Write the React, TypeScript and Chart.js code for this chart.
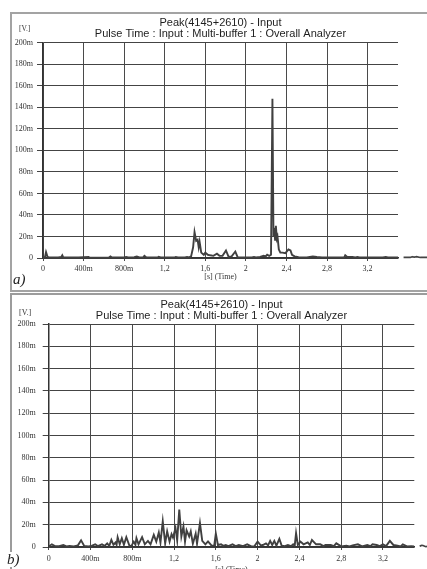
import React, { useEffect, useRef } from "react";
import { Chart, registerables } from "chart.js";

Chart.register(...registerables);

const TITLE_LINES = ["Peak(4145+2610) - Input", "Pulse Time : Input : Multi-buffer 1 : Overall Analyzer"];
const Y_UNIT = "[V.]";
const X_TITLE = "[s] (Time)";
const PANEL_LABELS = ["a)", "b)"];

const Y_TICKS = [0, 20, 40, 60, 80, 100, 120, 140, 160, 180, 200];
const X_TICK_VALUES = [0, 0.4, 0.8, 1.2, 1.6, 2, 2.4, 2.8, 3.2];
const X_TICK_LABELS = ["0", "400m", "800m", "1,2", "1,6", "2", "2,4", "2,8", "3,2"];
const X_MAX = 3.5;

// panel a) — time [s], voltage [mV]
const TIME_A = [0, 0.02, 0.03, 0.045, 0.06, 0.15, 0.18, 0.19, 0.2, 0.35, 0.45, 0.46, 0.65, 0.665, 0.68, 0.8, 0.82, 0.84, 0.9, 0.925, 0.95, 0.99, 1.0, 1.02, 1.13, 1.14, 1.16, 1.3, 1.31, 1.33, 1.4, 1.42, 1.44, 1.46, 1.48, 1.494, 1.51, 1.524, 1.535, 1.544, 1.56, 1.585, 1.6, 1.625, 1.65, 1.68, 1.715, 1.74, 1.77, 1.804, 1.83, 1.86, 1.896, 1.92, 2.0, 2.06, 2.08, 2.1, 2.14, 2.176, 2.195, 2.21, 2.23, 2.248, 2.262, 2.272, 2.28, 2.288, 2.296, 2.305, 2.312, 2.325, 2.34, 2.36, 2.39, 2.42, 2.44, 2.455, 2.48, 2.52, 2.55, 2.6, 2.66, 2.7, 2.75, 2.9, 2.97, 2.98, 3.0, 3.05, 3.08, 3.1, 3.12, 3.35, 3.38, 3.4, 3.5];
const VOLT_A = [0.5, 1, 5.5, 1, 0.5, 0.5, 1, 2.5, 0.5, 0.5, 1, 0.3, 0.5, 1.5, 0.5, 0.5, 1, 0.5, 0.8, 1.5, 0.5, 0.8, 2, 0.5, 0.5, 1.2, 0.5, 0.5, 1, 0.5, 0.5, 1, 0.5, 1.5, 10, 24, 16, 17, 10, 15, 5, 3, 5, 3, 2.5, 2, 4, 2, 2, 7, 1, 1.5, 6, 0.5, 0.5, 0.5, 1, 0.5, 1, 2, 1.5, 3, 2, 3, 148, 20, 28, 17, 30, 18, 20, 8, 5, 5, 4.5, 8, 7, 3, 1.5, 0.8, 0.5, 0.6, 1.5, 1, 0.5, 0.5, 0.5, 2.5, 1, 1, 0.5, 1, 0.5, 0.5, 1, 0.5, 0.5];
// trace continuing past the right edge of plot a)
const EXT_TIME_A = [3.555, 3.62, 3.64, 3.66, 3.68, 3.72, 3.8];
const EXT_VOLT_A = [0.5, 0.5, 1.2, 0.8, 1.2, 0.5, 0.5];

// panel b)
const TIME_B = [0, 0.03, 0.06, 0.1, 0.14, 0.17, 0.2, 0.24, 0.28, 0.31, 0.34, 0.38, 0.41, 0.445, 0.47, 0.51, 0.535, 0.56, 0.58, 0.6, 0.62, 0.64, 0.65, 0.66, 0.68, 0.7, 0.72, 0.743, 0.775, 0.795, 0.814, 0.83, 0.84, 0.86, 0.894, 0.92, 0.95, 0.975, 1.006, 1.03, 1.054, 1.07, 1.092, 1.115, 1.134, 1.157, 1.176, 1.19, 1.214, 1.23, 1.25, 1.27, 1.29, 1.305, 1.32, 1.345, 1.36, 1.38, 1.407, 1.42, 1.448, 1.47, 1.5, 1.525, 1.56, 1.585, 1.6, 1.62, 1.65, 1.67, 1.695, 1.72, 1.76, 1.79, 1.82, 1.86, 1.9, 1.94, 1.967, 2.0, 2.03, 2.05, 2.08, 2.1, 2.12, 2.14, 2.16, 2.18, 2.208, 2.23, 2.26, 2.29, 2.32, 2.34, 2.355, 2.368, 2.385, 2.41, 2.44, 2.48, 2.5, 2.52, 2.56, 2.6, 2.63, 2.65, 2.7, 2.73, 2.753, 2.8, 2.85, 2.88, 2.91, 2.96, 3.0, 3.05, 3.08, 3.1, 3.14, 3.17, 3.2, 3.23, 3.266, 3.3, 3.34, 3.37, 3.39, 3.43, 3.47, 3.5];
const VOLT_B = [0.5, 2.4, 0.8, 0.8, 1.8, 0.6, 1, 0.6, 1.5, 6, 1, 0.5, 1, 2.4, 0.8, 2.4, 1, 3.3, 1, 6.4, 2, 4, 2, 8.8, 2.5, 7.9, 2, 8.8, 0.6, 1.5, 4.8, 2, 7.9, 2.4, 8.8, 2.4, 5.5, 2.4, 10.9, 4.8, 13, 4, 23, 3.3, 14, 4.8, 11.5, 8.5, 17, 6, 33.6, 9.4, 18.5, 4.8, 15, 9.4, 14, 3, 12, 3, 21.4, 5.5, 2.4, 5, 1.2, 1.5, 12, 1.8, 2.4, 1, 1.8, 0.8, 2.4, 0.8, 1.8, 0.8, 2.4, 0.6, 0.5, 4.8, 1.5, 1.8, 3.3, 1.5, 5.5, 1.8, 5.5, 1.2, 7.3, 1.2, 0.8, 1.8, 0.8, 2.4, 1, 12.4, 1.8, 4.8, 2.4, 4.2, 1.8, 6.3, 2.4, 2.4, 0.8, 1.8, 1.8, 0.8, 3.3, 0.6, 1.2, 0.6, 1.5, 2.4, 0.5, 1.8, 0.8, 2.4, 1.8, 0.8, 2.4, 0.8, 5.5, 1.8, 1.2, 0.6, 2.4, 0.6, 0.8, 0.5];
const EXT_TIME_B = [3.552, 3.57, 3.595, 3.615, 3.64];
const EXT_VOLT_B = [0.5, 1.8, 0.8, 0.2, 1.5];

type PanelLayout = {
  padLeft: number;
  yWidth: number;
  rightGap: number;
  xHeight: number;
  titleTop: number;
  titleBottom: number;
  yTickPad: number;
  xTickPad: number;
  xTitlePad: number;
  extTension: number;
};

const extensionPlugin = (times: number[], volts: number[], tension: number) => ({
  id: "extension",
  afterDatasetsDraw(chart: any) {
    const xs = chart.scales.x;
    const ys = chart.scales.y;
    const pts = times.map((t, i) => [xs.getPixelForValue(t), ys.getPixelForValue(volts[i])]);
    const ctx = chart.ctx;
    ctx.save();
    ctx.strokeStyle = "#444";
    ctx.lineWidth = 1.7;
    ctx.lineJoin = "round";
    ctx.beginPath();
    ctx.moveTo(pts[0][0], pts[0][1]);
    for (let i = 1; i < pts.length; i++) {
      if (tension > 0) {
        const mx = (pts[i - 1][0] + pts[i][0]) / 2;
        const my = (pts[i - 1][1] + pts[i][1]) / 2;
        ctx.quadraticCurveTo(pts[i - 1][0], pts[i - 1][1], mx, my);
      } else {
        ctx.lineTo(pts[i][0], pts[i][1]);
      }
    }
    ctx.lineTo(pts[pts.length - 1][0], pts[pts.length - 1][1]);
    ctx.stroke();
    ctx.restore();
  },
});

function makeConfig(times: number[], volts: number[], extT: number[], extV: number[], L: PanelLayout): any {
  const tickFont = { family: "'Liberation Serif', 'Times New Roman', serif", size: 8 };
  return {
    type: "line",
    data: {
      datasets: [
        {
          data: times.map((t, i) => ({ x: t, y: volts[i] })),
          borderColor: "#404040",
          borderWidth: 1.9,
          pointRadius: 0,
          tension: 0,
          fill: false,
        },
      ],
    },
    plugins: [extensionPlugin(extT, extV, L.extTension)],
    options: {
      animation: false,
      responsive: false,
      devicePixelRatio: 1,
      events: [],
      layout: { padding: { left: L.padLeft, right: 0, top: 0, bottom: 0 } },
      plugins: {
        legend: { display: false },
        tooltip: { enabled: false },
        title: {
          display: true,
          text: TITLE_LINES,
          color: "#1e1e1e",
          font: { family: "'Liberation Sans', Arial, sans-serif", size: 11, weight: "normal", lineHeight: 1.05 },
          padding: { top: L.titleTop, bottom: L.titleBottom },
        },
      },
      scales: {
        x: {
          type: "linear",
          min: 0,
          max: X_MAX,
          afterBuildTicks: (s: any) => {
            s.ticks = X_TICK_VALUES.map((v) => ({ value: v }));
          },
          afterFit: (s: any) => {
            s.height = L.xHeight;
          },
          ticks: {
            autoSkip: false,
            maxRotation: 0,
            padding: L.xTickPad,
            color: "#333",
            font: tickFont,
            callback: (v: number) => {
              const i = X_TICK_VALUES.findIndex((t) => Math.abs(t - v) < 1e-6);
              return i >= 0 ? X_TICK_LABELS[i] : "";
            },
          },
          grid: { color: "#4a4a4a", lineWidth: 1, tickLength: 3, drawTicks: true },
          border: { display: true, color: "#333", width: 1.5 },
          title: {
            display: true,
            text: X_TITLE,
            color: "#333",
            font: { ...tickFont, lineHeight: 1.2 },
            padding: { top: 0, bottom: L.xTitlePad },
          },
        },
        y: {
          type: "linear",
          position: "left",
          min: 0,
          max: 200,
          afterBuildTicks: (s: any) => {
            s.ticks = Y_TICKS.map((v) => ({ value: v }));
          },
          afterFit: (s: any) => {
            s.width = L.yWidth;
          },
          ticks: {
            autoSkip: false,
            padding: L.yTickPad,
            color: "#333",
            font: tickFont,
            callback: (v: number) => (v === 0 ? "0" : `${v}m`),
          },
          grid: { color: "#444", lineWidth: 1, tickLength: 6, drawTicks: true },
          border: { display: true, color: "#333", width: 1.5 },
        },
        gap: {
          type: "linear",
          position: "right",
          display: true,
          min: 0,
          max: 1,
          afterFit: (s: any) => {
            s.width = L.rightGap;
          },
          ticks: { display: false },
          grid: { display: false, drawTicks: false },
          border: { display: false },
        },
      },
    },
  };
}

const LAYOUT_A: PanelLayout = {
  padLeft: 2, yWidth: 29, rightGap: 29, xHeight: 32,
  titleTop: 3.1, titleBottom: 2.5, yTickPad: 4, xTickPad: 3, xTitlePad: 8.5, extTension: 0,
};
const LAYOUT_B: PanelLayout = {
  padLeft: 4, yWidth: 32.7, rightGap: 12.7, xHeight: 33,
  titleTop: 3.7, titleBottom: 2.2, yTickPad: 7, xTickPad: 4.3, xTitlePad: 5.7, extTension: 0.5,
};

function Panel(props: { times: number[]; volts: number[]; extT: number[]; extV: number[]; layout: PanelLayout; top: number; height: number }) {
  const ref = useRef<HTMLCanvasElement | null>(null);
  useEffect(() => {
    if (!ref.current) return;
    const chart = new Chart(ref.current, makeConfig(props.times, props.volts, props.extT, props.extV, props.layout));
    return () => chart.destroy();
  }, []);
  return (
    <canvas
      ref={ref}
      width={415}
      height={props.height}
      style={{ position: "absolute", left: 12, top: props.top, width: 415, height: props.height }}
    />
  );
}

const labelStyle: React.CSSProperties = {
  position: "absolute",
  fontFamily: "'Liberation Serif', 'Times New Roman', serif",
  color: "#333",
  lineHeight: 1,
  whiteSpace: "nowrap",
};

export default function App() {
  return (
    <div style={{ position: "absolute", left: 0, top: 0, width: 427, height: 569, overflow: "hidden", background: "#fff" }}>
      <div style={{ position: "absolute", left: 10, top: 12, width: 440, height: 280, boxSizing: "border-box", border: "2px solid #a3a3a3" }} />
      <div style={{ position: "absolute", left: 10, top: 293, width: 440, height: 300, boxSizing: "border-box", border: "2px solid #9c9c9c" }} />
      <Panel times={TIME_A} volts={VOLT_A} extT={EXT_TIME_A} extV={EXT_VOLT_A} layout={LAYOUT_A} top={14} height={276} />
      <Panel times={TIME_B} volts={VOLT_B} extT={EXT_TIME_B} extV={EXT_VOLT_B} layout={LAYOUT_B} top={295} height={285} />
      <span style={{ ...labelStyle, left: 19, top: 25, fontSize: 7.5 }}>{Y_UNIT}</span>
      <span style={{ ...labelStyle, left: 19, top: 309, fontSize: 8 }}>{Y_UNIT}</span>
      <span style={{ ...labelStyle, left: 13, top: 272, fontSize: 15, fontStyle: "italic", color: "#222" }}>{PANEL_LABELS[0]}</span>
      <span style={{ ...labelStyle, left: 7, top: 552, fontSize: 15, fontStyle: "italic", color: "#222", background: "#fff" }}>{PANEL_LABELS[1]}</span>
    </div>
  );
}
